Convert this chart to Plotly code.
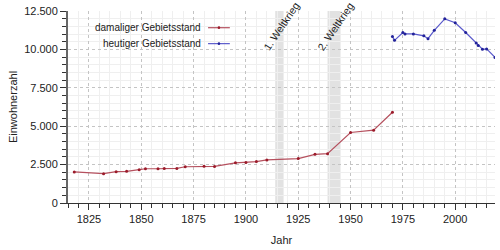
import plotly.graph_objects as go

# Data
years_old = [1818, 1832, 1838, 1843, 1849, 1852, 1858, 1861, 1867, 1871, 1880, 1885,
             1895, 1900, 1905, 1910, 1925, 1933, 1939, 1950, 1961, 1970]
pop_old = [2020, 1910, 2040, 2060, 2170, 2230, 2230, 2250, 2250, 2360, 2400, 2380,
           2615, 2635, 2700, 2805, 2890, 3170, 3210, 4590, 4740, 5910]
years_new = [1970, 1971, 1975, 1976, 1980, 1985, 1987, 1990, 1995, 2000, 2005,
             2010, 2011, 2013, 2015, 2019]
pop_new = [10840, 10590, 11100, 11010, 11010, 10885, 10695, 11245, 11990, 11735, 11100,
           10420, 10250, 10010, 10030, 9480]
wars = [(1914, 1918, "1. Weltkrieg"), (1939, 1945, "2. Weltkrieg")]
legend_names = ["damaliger Gebietsstand", "heutiger Gebietsstand"]
red_line, red_mark = "#b5505e", "#9b1b2a"
blue_line, blue_mark = "#5a5acb", "#22229a"

FONT = "Liberation Sans, Arial, sans-serif"

fig = go.Figure()
fig.add_trace(go.Scatter(x=years_old, y=pop_old, mode="lines+markers", name=legend_names[0],
                         line=dict(color=red_line, width=1.2),
                         marker=dict(color=red_mark, size=3), showlegend=False))
fig.add_trace(go.Scatter(x=years_new, y=pop_new, mode="lines+markers", name=legend_names[1],
                         line=dict(color=blue_line, width=1.2),
                         marker=dict(color=blue_mark, size=3), showlegend=False))

shapes = []
annotations = []
for a, b, label in wars:
    shapes.append(dict(type="rect", xref="x", yref="paper", x0=a, x1=b, y0=0, y1=1,
                       fillcolor="#e2e2e2", line=dict(width=0), layer="between"))
    annotations.append(dict(x=(a + b) / 2 + 1, y=0.92, xref="x", yref="paper", text=label,
                            textangle=-56, showarrow=False, xanchor="center", yanchor="middle",
                            font=dict(family=FONT, size=10.5, color="#222")))

# legend (symbol to the right of the text)
shapes.append(dict(type="rect", xref="paper", yref="paper", x0=0.047, x1=0.393, y0=0.79, y1=1.0,
                   fillcolor="white", line=dict(width=0), layer="between"))
rows = [(0.913, red_line, red_mark), (0.830, blue_line, blue_mark)]
for (yy, lc, mc), name in zip(rows, legend_names):
    shapes.append(dict(type="line", xref="paper", yref="paper", x0=0.328, x1=0.379, y0=yy, y1=yy,
                       line=dict(color=lc, width=1.2)))
    shapes.append(dict(type="circle", xref="paper", yref="paper", x0=0.3505, x1=0.3565,
                       y0=yy - 0.007, y1=yy + 0.007, fillcolor=mc, line=dict(width=0)))
    annotations.append(dict(x=0.316, y=yy, xref="paper", yref="paper", text=name, showarrow=False,
                            xanchor="right", yanchor="middle",
                            font=dict(family=FONT, size=10, color="#222")))

fig.update_layout(
    width=500, height=250,
    margin=dict(l=68, r=5, t=10, b=44),
    paper_bgcolor="white", plot_bgcolor="white",
    separators=",.",
    font=dict(family=FONT, size=11, color="#222"),
    shapes=shapes, annotations=annotations,
    xaxis=dict(range=[1815, 2019], dtick=25, tick0=1800, showgrid=True,
               gridcolor="#c4c4c4", griddash="dot", gridwidth=1,
               ticks="outside", ticklen=6, tickcolor="#333",
               showline=True, linecolor="#333", linewidth=1, zeroline=False,
               minor=dict(dtick=5, showgrid=True, gridcolor="#efefef", griddash="solid",
                          ticks="outside", ticklen=4, tickcolor="#333"),
               title=dict(text="Jahr", standoff=12, font=dict(size=11))),
    yaxis=dict(range=[0, 12500], dtick=2500, tickformat=",d", showgrid=True,
               gridcolor="#c4c4c4", griddash="dot", gridwidth=1,
               ticks="outside", ticklen=6, tickcolor="#333",
               showline=True, linecolor="#666", linewidth=2, zeroline=False,
               minor=dict(dtick=500, showgrid=True, gridcolor="#efefef", griddash="solid",
                          ticks="outside", ticklen=4, tickcolor="#333"),
               title=dict(text="Einwohnerzahl", standoff=4, font=dict(size=11))),
)

fig.write_html("out.html")
